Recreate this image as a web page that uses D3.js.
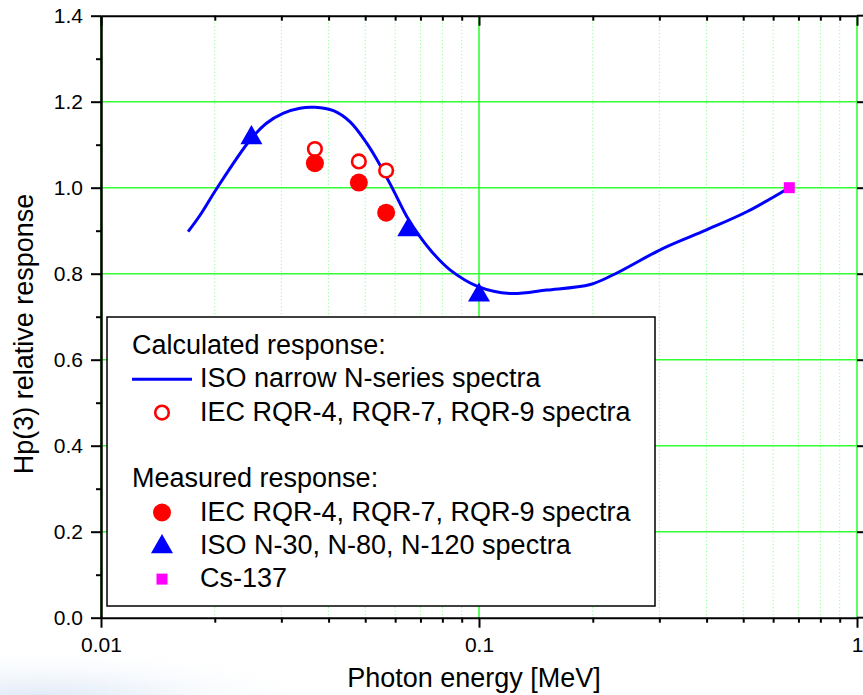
<!DOCTYPE html>
<html>
<head>
<meta charset="utf-8">
<script src="https://cdn.jsdelivr.net/npm/d3@7"></script>
<style>
  body { margin: 0; background: #fff; }
  svg { display: block; font-family: "Liberation Sans", Arial, sans-serif; }
</style>
</head>
<body>
<svg id="chart" width="863" height="695"></svg>
<script>
// calculated response curve, ISO narrow N-series spectra
const curveEnergy = [0.0170, 0.01828, 0.0203, 0.0248, 0.0274, 0.0303, 0.0336, 0.0368, 0.0412, 0.0456, 0.0505, 0.0547, 0.0593, 0.0644, 0.0698, 0.0757, 0.0838, 0.0995, 0.121, 0.151, 0.197, 0.226, 0.307, 0.400, 0.511, 0.662];
const curveResponse = [0.898, 0.936, 1.0, 1.111, 1.150, 1.173, 1.185, 1.187, 1.179, 1.153, 1.103, 1.053, 0.995, 0.933, 0.886, 0.847, 0.809, 0.770, 0.754, 0.762, 0.775, 0.797, 0.859, 0.902, 0.944, 1.0];

// IEC RQR-4, RQR-7, RQR-9
const iecEnergy = [0.0368, 0.0481, 0.0568];
const iecCalculated = [1.090, 1.061, 1.040];
const iecMeasured = [1.057, 1.012, 0.942];

// ISO N-30, N-80, N-120
const isoEnergy = [0.025, 0.065, 0.1];
const isoMeasured = [1.116, 0.902, 0.75];

// Cs-137
const csEnergy = [0.662];
const csMeasured = [1.0];

// ticks
const xMajorTicks = [0.01, 0.1, 1];
const xTickLabels = ["0.01", "0.1", "1"];
const yMajorTicks = [0, 0.2, 0.4, 0.6, 0.8, 1.0, 1.2, 1.4];
const yMinorTicks = [0.1, 0.3, 0.5, 0.7, 0.9, 1.1, 1.3];

// legend rows
const legendRows = [
  { label: "Calculated response:", symbol: null, header: true },
  { label: "ISO narrow N-series spectra", symbol: "line" },
  { label: "IEC RQR-4, RQR-7, RQR-9 spectra", symbol: "openCircle" },
  { label: "", symbol: null },
  { label: "Measured response:", symbol: null, header: true },
  { label: "IEC RQR-4, RQR-7, RQR-9 spectra", symbol: "circle" },
  { label: "ISO N-30, N-80, N-120 spectra", symbol: "triangle" },
  { label: "Cs-137", symbol: "square" }
];

//Layout properties
const plot = {};
plot.left = 101;
plot.top = 15.7;
plot.right = 857;
plot.bottom = 617.7;

const blue = "#0000ff";
const red = "#ff0000";
const magenta = "#ff00ff";
const gridGreen = "#33ff33";
const fontFamily = "Liberation Sans, Arial, sans-serif";

const svg = d3.select("#chart");

//Faint slide background in the lower left corner
const defs = svg.append("defs");
const grad = defs.append("radialGradient").attr("id", "bgGlow");
grad.append("stop").attr("offset", "0%").attr("stop-color", "#d4e2f4");
grad.append("stop").attr("offset", "100%").attr("stop-color", "#ffffff").attr("stop-opacity", 0);
svg.append("ellipse")
  .attr("cx", 40).attr("cy", 705)
  .attr("rx", 300).attr("ry", 60)
  .attr("fill", "url(#bgGlow)");

//Scales
const x = d3.scaleLog().domain([0.01, 1]).range([plot.left, plot.right]);
const y = d3.scaleLinear().domain([0, 1.4]).range([plot.bottom, plot.top]);

const xMinorTicks = x.ticks().filter((t) => !xMajorTicks.some((m) => Math.abs(m - t) < 1e-9));

//Gridlines
const grid = svg.append("g");

grid.selectAll(".vminor")
  .data(xMinorTicks)
  .join("line")
  .attr("x1", (d) => x(d)).attr("x2", (d) => x(d))
  .attr("y1", plot.top).attr("y2", plot.bottom)
  .attr("stroke", "#7dff7d")
  .attr("stroke-width", 1)
  .attr("stroke-dasharray", "1,2.5");

grid.selectAll(".vmajor")
  .data(xMajorTicks)
  .join("line")
  .attr("x1", (d) => x(d)).attr("x2", (d) => x(d))
  .attr("y1", plot.top).attr("y2", plot.bottom)
  .attr("stroke", gridGreen)
  .attr("stroke-width", 1.6);

grid.selectAll(".hmajor")
  .data(yMajorTicks.slice(1, -1))
  .join("line")
  .attr("x1", plot.left).attr("x2", plot.right)
  .attr("y1", (d) => y(d)).attr("y2", (d) => y(d))
  .attr("stroke", gridGreen)
  .attr("stroke-width", 1.6);

//Axes
const axisStyle = (g, width) => {
  g.attr("font-family", fontFamily).attr("font-size", 21);
  g.selectAll("path").attr("stroke", "#000").attr("stroke-width", width);
  g.selectAll("line").attr("stroke", "#000").attr("stroke-width", 2);
  g.selectAll("text").attr("fill", "#000").style("font-size", "21px");
};

// left
svg.append("g")
  .attr("transform", "translate(" + plot.left + ",0)")
  .call(d3.axisLeft(y).tickValues(yMajorTicks).tickFormat(d3.format(".1f")).tickSize(10).tickSizeOuter(0).tickPadding(8))
  .call((g) => axisStyle(g, 2.5));
svg.append("g")
  .attr("transform", "translate(" + plot.left + ",0)")
  .call(d3.axisLeft(y).tickValues(yMinorTicks).tickFormat("").tickSize(5).tickSizeOuter(0))
  .call((g) => { axisStyle(g, 2.5); g.select(".domain").remove(); });

// right (ticks only)
svg.append("g")
  .attr("transform", "translate(" + plot.right + ",0)")
  .call(d3.axisRight(y).tickValues(yMajorTicks.slice(1, -1)).tickFormat("").tickSize(6).tickSizeOuter(0))
  .call((g) => { axisStyle(g, 2); g.select(".domain").remove(); });

// bottom
svg.append("g")
  .attr("transform", "translate(0," + plot.bottom + ")")
  .call(d3.axisBottom(x).tickValues(xMajorTicks).tickFormat((d, i) => xTickLabels[i]).tickSize(10).tickSizeOuter(0).tickPadding(9))
  .call((g) => axisStyle(g, 2));
svg.append("g")
  .attr("transform", "translate(0," + plot.bottom + ")")
  .call(d3.axisBottom(x).tickValues(xMinorTicks).tickFormat("").tickSize(5).tickSizeOuter(0))
  .call((g) => { axisStyle(g, 2); g.select(".domain").remove(); });

// top (ticks point into the plot)
svg.append("g")
  .attr("transform", "translate(0," + plot.top + ")")
  .call(d3.axisBottom(x).tickValues(xMajorTicks).tickFormat("").tickSize(10).tickSizeOuter(0))
  .call((g) => axisStyle(g, 2));
svg.append("g")
  .attr("transform", "translate(0," + plot.top + ")")
  .call(d3.axisBottom(x).tickValues(xMinorTicks).tickFormat("").tickSize(5).tickSizeOuter(0))
  .call((g) => { axisStyle(g, 2); g.select(".domain").remove(); });

// extend top and bottom lines to the right edge
[plot.top, plot.bottom].forEach((yy) => {
  svg.append("line")
    .attr("x1", plot.right).attr("x2", 863)
    .attr("y1", yy).attr("y2", yy)
    .attr("stroke", "#000").attr("stroke-width", 2);
});

// axis titles
svg.append("text")
  .attr("x", 474).attr("y", 687)
  .attr("text-anchor", "middle")
  .attr("font-size", 27)
  .text("Photon energy [MeV]");

svg.append("text")
  .attr("transform", "translate(33,334) rotate(-90)")
  .attr("text-anchor", "middle")
  .attr("font-size", 27)
  .text("Hp(3) relative response");

//Data
const curveData = curveEnergy.map((e, i) => [e, curveResponse[i]]);
svg.append("path")
  .datum(curveData)
  .attr("fill", "none")
  .attr("stroke", blue)
  .attr("stroke-width", 3)
  .attr("d", d3.line().x((d) => x(d[0])).y((d) => y(d[1])).curve(d3.curveCatmullRom.alpha(0.5)));

svg.selectAll(".calcIec")
  .data(iecEnergy.map((e, i) => [e, iecCalculated[i]]))
  .join("circle")
  .attr("cx", (d) => x(d[0])).attr("cy", (d) => y(d[1]))
  .attr("r", 6.8)
  .attr("fill", "#fff")
  .attr("stroke", red)
  .attr("stroke-width", 2.6);

svg.selectAll(".measIec")
  .data(iecEnergy.map((e, i) => [e, iecMeasured[i]]))
  .join("circle")
  .attr("cx", (d) => x(d[0])).attr("cy", (d) => y(d[1]))
  .attr("r", 9)
  .attr("fill", red);

const triangle = d3.symbol().type(d3.symbolTriangle).size(210);
svg.selectAll(".iso")
  .data(isoEnergy.map((e, i) => [e, isoMeasured[i]]))
  .join("path")
  .attr("transform", (d) => "translate(" + x(d[0]) + "," + y(d[1]) + ")")
  .attr("d", triangle)
  .attr("fill", blue);

svg.selectAll(".cs")
  .data(csEnergy.map((e, i) => [e, csMeasured[i]]))
  .join("rect")
  .attr("x", (d) => x(d[0]) - 5.5).attr("y", (d) => y(d[1]) - 5.5)
  .attr("width", 11).attr("height", 11)
  .attr("fill", magenta);

//Legend
const legend = svg.append("g");
legend.append("rect")
  .attr("x", 107).attr("y", 317)
  .attr("width", 548).attr("height", 289)
  .attr("fill", "#fff")
  .attr("stroke", "#000")
  .attr("stroke-width", 1.5);

const rowY = (i) => 354 + i * 33.3;
legendRows.forEach((row, i) => {
  const by = rowY(i);
  legend.append("text")
    .attr("x", row.header ? 132 : 200)
    .attr("y", by)
    .attr("font-size", 27)
    .text(row.label);
  const sy = by - 8;
  if (row.symbol === "line") {
    legend.append("line")
      .attr("x1", 132).attr("x2", 192).attr("y1", sy).attr("y2", sy)
      .attr("stroke", blue).attr("stroke-width", 3);
  } else if (row.symbol === "openCircle") {
    legend.append("circle").attr("cx", 162).attr("cy", sy).attr("r", 6.8)
      .attr("fill", "#fff").attr("stroke", red).attr("stroke-width", 2.6);
  } else if (row.symbol === "circle") {
    legend.append("circle").attr("cx", 162).attr("cy", sy).attr("r", 9).attr("fill", red);
  } else if (row.symbol === "triangle") {
    legend.append("path").attr("transform", "translate(162," + (sy + 1) + ")").attr("d", triangle).attr("fill", blue);
  } else if (row.symbol === "square") {
    legend.append("rect").attr("x", 156.5).attr("y", sy - 5.5).attr("width", 11).attr("height", 11).attr("fill", magenta);
  }
});
</script>
</body>
</html>
